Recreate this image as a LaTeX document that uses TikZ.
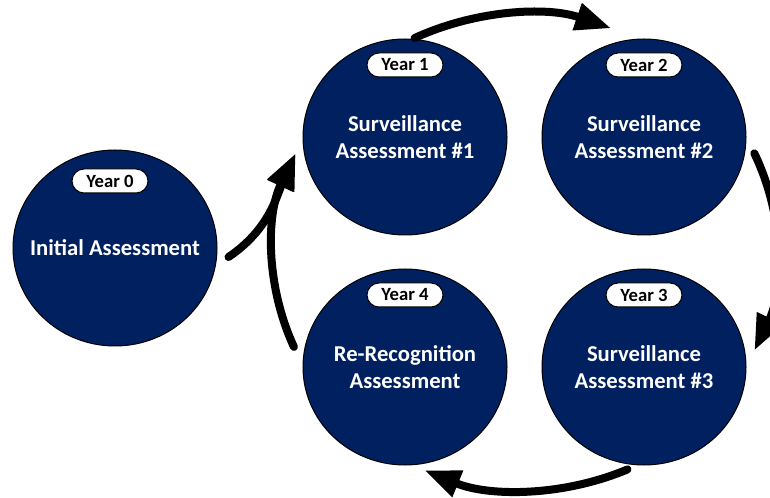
\documentclass[tikz,border=0pt]{standalone}
\usepackage{fontspec}
\setmainfont{Carlito}
\usetikzlibrary{shapes.geometric,arrows.meta}

\definecolor{navyfill}{HTML}{002060}

\tikzset{every picture/.style={line width=0.75pt}}
\tikzset{
  stage/.style={ellipse, draw=black, fill=navyfill, minimum width=153pt, minimum height=147pt,
    inner xsep=-14pt, inner ysep=0pt, text=white, align=center, font=\fontsize{17}{20.5}\selectfont\bfseries},
  yeartag/.style={draw=black, fill=white, rounded corners=9pt, minimum width=57pt,
    minimum height=18pt, inner sep=0pt, font=\fontsize{14}{16}\selectfont\bfseries},
  cycarrow/.style={line width=6pt, line cap=round, -{Triangle[length=27pt,width=20pt]}}
}

\begin{document}
\begin{tikzpicture}[x=0.75pt,y=0.75pt,yscale=-1,xscale=1]
\useasboundingbox (0,0) rectangle (770,498); %set diagram to 770 x 498

%Shape: Ellipse [stages]
\node [stage] (y0) at (115,248) {Initial Assessment};
\node [stage] (y1) at (405,137) {Surveillance\\Assessment \#1};
\node [stage] (y2) at (644,137) {Surveillance\\Assessment \#2};
\node [stage] (y3) at (644,367) {Surveillance\\Assessment \#3};
\node [stage] (y4) at (405,367) {Re-Recognition\\Assessment};

% Text Node [year tags]
\node [yeartag] (t0) at (110,181) {Year 0};
\node [yeartag] (t1) at (405,65) {Year 1};
\node [yeartag] (t2) at (644,65) {Year 2};
\node [yeartag] (t3) at (644,295) {Year 3};
\node [yeartag] (t4) at (405,295) {Year 4};

%Curve Lines [cycle]
\coordinate (ring) at (525,252);
\path (ring) ++(204.5:252 and 238) coordinate (tip1);
\draw [cycarrow] (ring) ++(-116:252 and 238) arc [start angle=-116, end angle=-70, x radius=252, y radius=238];
\draw [cycarrow] (ring) ++(-24.5:252 and 238) arc [start angle=-24.5, end angle=24.5, x radius=252, y radius=238];
\draw [cycarrow] (ring) ++(66:252 and 238) arc [start angle=66, end angle=113.5, x radius=252, y radius=238];
\draw [cycarrow] (ring) ++(156.5:252 and 238) arc [start angle=156.5, end angle=204.5, x radius=252, y radius=238];
%Curve Lines [entry]
\draw [cycarrow] ([shift={(11,9)}]y0.east) to [out=-34, in=114] (tip1);

\end{tikzpicture}
\end{document}
